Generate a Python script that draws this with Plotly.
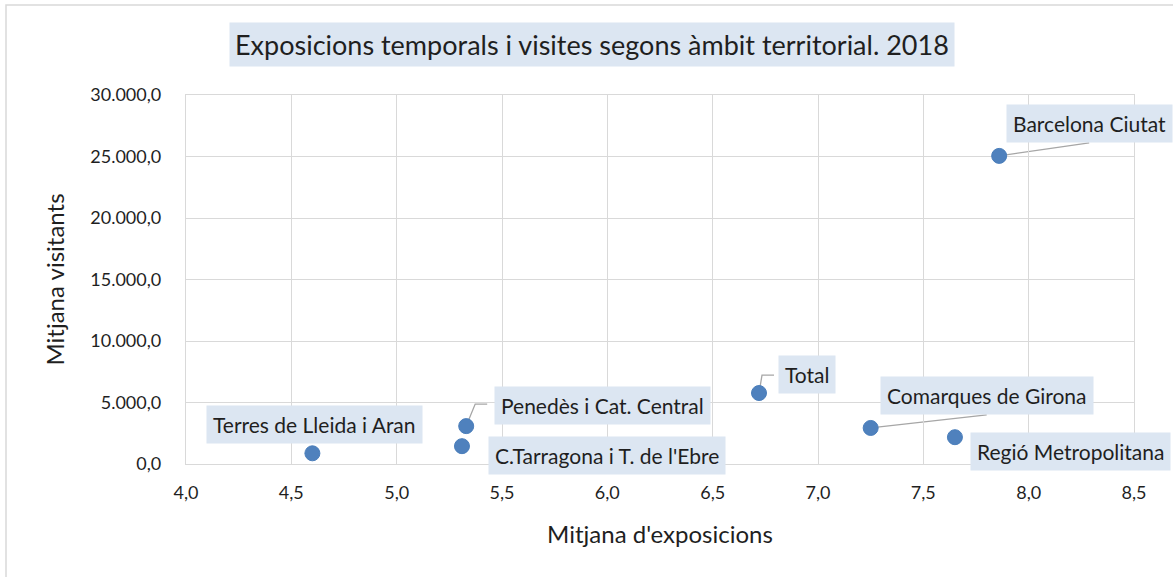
import plotly.graph_objects as go

# Data
labels = ["Terres de Lleida i Aran", "C.Tarragona i T. de l'Ebre", "Penedès i Cat. Central",
          "Total", "Comarques de Girona", "Regió Metropolitana", "Barcelona Ciutat"]
mitjana_exposicions = [4.60, 5.31, 5.33, 6.72, 7.25, 7.65, 7.86]
mitjana_visitants = [870, 1450, 3080, 5770, 2930, 2180, 25050]

x_ticks = [4.0, 4.5, 5.0, 5.5, 6.0, 6.5, 7.0, 7.5, 8.0, 8.5]
y_ticks = [0, 5000, 10000, 15000, 20000, 25000, 30000]

title_text = "Exposicions temporals i visites segons àmbit territorial. 2018"
x_title = "Mitjana d'exposicions"
y_title = "Mitjana visitants"

FONT = "Lato"
BOX = "#dce6f2"
TXT = "#1f1f1f"

fig = go.Figure()
fig.add_trace(go.Scatter(
    x=mitjana_exposicions, y=mitjana_visitants, mode="markers",
    marker=dict(size=15, color="#4f81bd", line=dict(width=1, color="#4a7ebb")),
    hoverinfo="text", text=labels, showlegend=False, cliponaxis=False))

# label offsets in pixels (box centre relative to point), leader paths in pixels
label_style = {
    "Terres de Lleida i Aran": dict(dx=2, dy=29, path=None),
    "C.Tarragona i T. de l'Ebre": dict(dx=145, dy=-9, path=None),
    "Penedès i Cat. Central": dict(dx=136, dy=21, path="M0,0 L9,22 L21,22"),
    "Total": dict(dx=48, dy=19, path="M0,0 L3,18 L15,18"),
    "Comarques de Girona": dict(dx=116, dy=32, path="M0,0 L116,13"),
    "Regió Metropolitana": dict(dx=116, dy=-14, path=None),
    "Barcelona Ciutat": dict(dx=90, dy=32, path="M0,0 L90,13"),
}

L, R, T, B = 186, 39, 95, 113
PW, PH = 1173 - L - R, 577 - T - B

shapes = []
annotations = []
for lab, xv, yv in zip(labels, mitjana_exposicions, mitjana_visitants):
    st = label_style[lab]
    if st["path"]:
        shapes.append(dict(type="path", xref="x", yref="y", xsizemode="pixel", ysizemode="pixel",
                           xanchor=xv, yanchor=yv, path=st["path"],
                           line=dict(color="#a6a6a6", width=1.3), layer="below"))
    annotations.append(dict(x=xv, y=yv, xref="x", yref="y", text=lab, showarrow=False,
                            xanchor="center", yanchor="middle",
                            xshift=st["dx"], yshift=st["dy"], bgcolor=BOX, borderpad=6,
                            font=dict(family=FONT, size=21, color=TXT)))

# title box
annotations.append(dict(x=(592 - L) / PW, y=(577 - B - 44) / PH, xref="paper", yref="paper",
                        xanchor="center", yanchor="middle",
                        text=title_text, showarrow=False, bgcolor=BOX, borderpad=5,
                        font=dict(family=FONT, size=27, color=TXT)))

# outer chart border
shapes.append(dict(type="rect", xref="paper", yref="paper",
                   x0=(6 - L) / PW, x1=(1190 - L) / PW,
                   y0=(577 - B - 600) / PH, y1=(577 - B - 5) / PH,
                   line=dict(color="#d9d9d9", width=1.5), layer="below"))

fig.update_layout(
    width=1173, height=577,
    margin=dict(l=L, r=R, t=T, b=B),
    paper_bgcolor="white", plot_bgcolor="white",
    separators=",.",
    font=dict(family=FONT, size=18, color=TXT),
    shapes=shapes, annotations=annotations,
    xaxis=dict(range=[4.0, 8.5], tickvals=x_ticks,
               tickformat=".1f", showgrid=True, gridcolor="#d9d9d9", gridwidth=1.3,
               zeroline=False, showline=True, linecolor="#d9d9d9", linewidth=1.3, mirror=True,
               ticks="", ticklabelstandoff=12,
               tickfont=dict(family=FONT, size=18, color=TXT),
               title=dict(text=x_title, font=dict(family=FONT, size=24, color=TXT), standoff=24)),
    yaxis=dict(range=[0, 30000], tickvals=y_ticks,
               tickformat=",.1f", showgrid=True, gridcolor="#d9d9d9", gridwidth=1.3,
               zeroline=False, showline=True, linecolor="#d9d9d9", linewidth=1.3, mirror=True,
               ticks="", ticklabelstandoff=20,
               tickfont=dict(family=FONT, size=18, color=TXT),
               title=dict(text=y_title, font=dict(family=FONT, size=24, color=TXT), standoff=18)),
)

fig.write_html("out.html", config={"displayModeBar": False},
               post_script="document.body.style.margin='0';")
